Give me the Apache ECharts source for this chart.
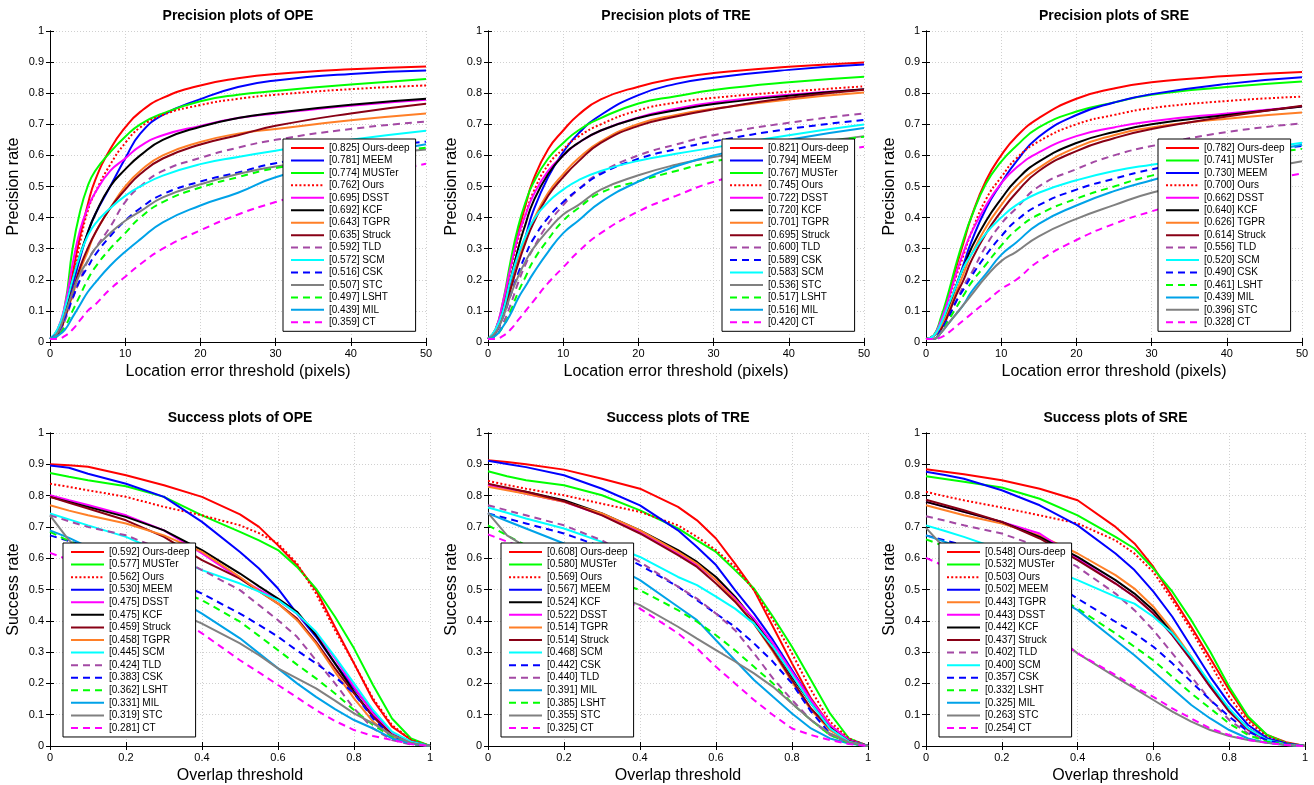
<!DOCTYPE html>
<html><head><meta charset="utf-8">
<script src="https://cdn.jsdelivr.net/npm/echarts@6/dist/echarts.min.js"></script>
<style>html,body{margin:0;padding:0;background:#fff}#c{width:1314px;height:785px}</style>
</head><body><div id="c"></div><script>
// ---------------- DATA ----------------
const precX = [0,1,2,3,4,5,6,8,10,12,15,20,25,30,40,50];
const succX = [0,0.05,0.1,0.2,0.3,0.4,0.5,0.55,0.6,0.65,0.7,0.75,0.8,0.85,0.9,0.95,1];
const precTicksX = [0,10,20,30,40,50];
const succTicksX = [0,0.2,0.4,0.6,0.8,1];

const titles = ['Precision plots of OPE','Precision plots of TRE','Precision plots of SRE',
                'Success plots of OPE','Success plots of TRE','Success plots of SRE'];
const precXName = 'Location error threshold (pixels)';
const succXName = 'Overlap threshold';
const precYName = 'Precision rate';
const succYName = 'Success rate';

// Precision OPE
const opePrecOrder = ['Ours-deep','MEEM','MUSTer','Ours','DSST','KCF','TGPR','Struck','TLD','SCM','CSK','STC','LSHT','MIL','CT'];
const opePrecScores = [0.825,0.781,0.774,0.762,0.695,0.692,0.643,0.635,0.592,0.572,0.516,0.507,0.497,0.439,0.359];
const opePrecVals = {
 'Ours-deep':[0.01,0.03,0.10,0.22,0.34,0.44,0.52,0.62,0.69,0.74,0.785,0.825,0.848,0.862,0.877,0.886],
 'MEEM':     [0.01,0.03,0.09,0.18,0.27,0.35,0.41,0.50,0.59,0.67,0.73,0.781,0.82,0.841,0.862,0.873],
 'MUSTer':   [0.01,0.04,0.12,0.30,0.42,0.50,0.55,0.61,0.66,0.70,0.735,0.774,0.795,0.807,0.828,0.846],
 'Ours':     [0.01,0.03,0.10,0.20,0.32,0.42,0.48,0.57,0.64,0.69,0.73,0.762,0.782,0.795,0.813,0.825],
 'DSST':     [0.01,0.04,0.12,0.25,0.36,0.43,0.48,0.55,0.59,0.63,0.665,0.695,0.72,0.735,0.76,0.779],
 'KCF':      [0.01,0.03,0.10,0.20,0.28,0.35,0.41,0.50,0.555,0.60,0.65,0.692,0.72,0.737,0.763,0.782],
 'TGPR':     [0.01,0.02,0.08,0.15,0.23,0.29,0.35,0.43,0.50,0.55,0.60,0.643,0.67,0.685,0.713,0.735],
 'Struck':   [0.01,0.02,0.08,0.16,0.24,0.30,0.35,0.43,0.49,0.54,0.59,0.635,0.665,0.695,0.735,0.766],
 'TLD':      [0.01,0.02,0.07,0.14,0.20,0.26,0.30,0.37,0.45,0.50,0.55,0.592,0.625,0.65,0.685,0.709],
 'SCM':      [0.01,0.04,0.11,0.20,0.28,0.34,0.38,0.43,0.47,0.50,0.535,0.572,0.595,0.615,0.65,0.679],
 'CSK':      [0.01,0.03,0.08,0.14,0.20,0.24,0.28,0.34,0.39,0.43,0.475,0.516,0.545,0.575,0.615,0.644],
 'STC':      [0.01,0.03,0.09,0.16,0.22,0.26,0.30,0.35,0.39,0.42,0.465,0.507,0.54,0.564,0.595,0.619],
 'LSHT':     [0.01,0.02,0.05,0.10,0.15,0.20,0.24,0.30,0.35,0.40,0.45,0.497,0.53,0.559,0.595,0.625],
 'MIL':      [0.01,0.02,0.04,0.08,0.12,0.16,0.19,0.245,0.29,0.33,0.385,0.439,0.48,0.53,0.59,0.636],
 'CT':       [0.01,0.01,0.02,0.04,0.07,0.10,0.12,0.17,0.21,0.25,0.30,0.359,0.41,0.45,0.52,0.573]
};

// Precision TRE
const trePrecOrder = ['Ours-deep','MEEM','MUSTer','Ours','DSST','KCF','TGPR','Struck','TLD','CSK','SCM','STC','LSHT','MIL','CT'];
const trePrecScores = [0.821,0.794,0.767,0.745,0.722,0.720,0.701,0.695,0.600,0.589,0.583,0.536,0.517,0.516,0.420];
const trePrecVals = {
 'Ours-deep':[0.01,0.04,0.12,0.24,0.35,0.44,0.52,0.62,0.68,0.73,0.78,0.821,0.848,0.865,0.885,0.899],
 'MEEM':     [0.01,0.03,0.10,0.18,0.27,0.34,0.42,0.53,0.61,0.67,0.73,0.794,0.83,0.85,0.875,0.892],
 'MUSTer':   [0.01,0.04,0.13,0.26,0.37,0.45,0.51,0.59,0.64,0.68,0.72,0.767,0.79,0.81,0.835,0.853],
 'Ours':     [0.01,0.04,0.12,0.23,0.33,0.41,0.48,0.57,0.62,0.66,0.70,0.745,0.77,0.785,0.805,0.822],
 'DSST':     [0.01,0.04,0.13,0.24,0.34,0.41,0.47,0.55,0.60,0.64,0.68,0.722,0.75,0.77,0.795,0.812],
 'KCF':      [0.01,0.03,0.10,0.20,0.30,0.38,0.45,0.54,0.60,0.64,0.68,0.72,0.745,0.765,0.792,0.813],
 'TGPR':     [0.01,0.03,0.09,0.17,0.26,0.33,0.39,0.48,0.54,0.59,0.645,0.701,0.73,0.75,0.78,0.802],
 'Struck':   [0.01,0.03,0.09,0.17,0.25,0.32,0.38,0.47,0.53,0.58,0.64,0.695,0.725,0.748,0.785,0.811],
 'TLD':      [0.01,0.02,0.06,0.12,0.19,0.25,0.30,0.38,0.44,0.49,0.545,0.60,0.635,0.665,0.705,0.735],
 'CSK':      [0.01,0.03,0.08,0.15,0.22,0.28,0.33,0.40,0.45,0.49,0.54,0.589,0.62,0.645,0.685,0.714],
 'SCM':      [0.01,0.04,0.10,0.20,0.28,0.34,0.39,0.45,0.49,0.52,0.55,0.583,0.605,0.625,0.665,0.699],
 'STC':      [0.01,0.03,0.08,0.15,0.21,0.26,0.30,0.36,0.41,0.44,0.49,0.536,0.57,0.595,0.63,0.662],
 'LSHT':     [0.01,0.02,0.05,0.10,0.16,0.21,0.26,0.33,0.39,0.43,0.48,0.517,0.55,0.58,0.625,0.66],
 'MIL':      [0.01,0.02,0.05,0.09,0.14,0.18,0.22,0.29,0.35,0.39,0.45,0.516,0.565,0.60,0.65,0.688],
 'CT':       [0.01,0.01,0.02,0.04,0.07,0.10,0.13,0.19,0.24,0.29,0.35,0.42,0.47,0.515,0.58,0.628]
};

// Precision SRE
const srePrecOrder = ['Ours-deep','MUSTer','MEEM','Ours','DSST','KCF','TGPR','Struck','TLD','SCM','CSK','LSHT','MIL','STC','CT'];
const srePrecScores = [0.782,0.741,0.730,0.700,0.662,0.640,0.626,0.614,0.556,0.520,0.490,0.461,0.439,0.396,0.328];
const srePrecVals = {
 'Ours-deep':[0.01,0.02,0.07,0.15,0.24,0.32,0.40,0.52,0.60,0.66,0.72,0.782,0.815,0.835,0.855,0.868],
 'MUSTer':   [0.01,0.02,0.08,0.16,0.25,0.33,0.40,0.51,0.58,0.63,0.69,0.741,0.77,0.795,0.82,0.838],
 'MEEM':     [0.01,0.02,0.05,0.11,0.18,0.25,0.32,0.43,0.51,0.58,0.66,0.73,0.77,0.797,0.83,0.851],
 'Ours':     [0.01,0.02,0.06,0.13,0.21,0.28,0.35,0.46,0.53,0.59,0.645,0.70,0.73,0.752,0.775,0.789],
 'DSST':     [0.01,0.02,0.07,0.14,0.22,0.29,0.35,0.44,0.51,0.56,0.61,0.662,0.69,0.71,0.735,0.757],
 'KCF':      [0.01,0.02,0.05,0.11,0.18,0.24,0.30,0.39,0.46,0.52,0.58,0.64,0.675,0.70,0.73,0.757],
 'TGPR':     [0.01,0.02,0.05,0.10,0.16,0.22,0.28,0.37,0.44,0.50,0.56,0.626,0.665,0.69,0.718,0.738],
 'Struck':   [0.01,0.01,0.04,0.09,0.15,0.20,0.26,0.35,0.42,0.48,0.55,0.614,0.655,0.685,0.725,0.76],
 'TLD':      [0.01,0.01,0.04,0.08,0.13,0.18,0.22,0.31,0.38,0.43,0.50,0.556,0.60,0.63,0.675,0.703],
 'SCM':      [0.01,0.02,0.06,0.12,0.18,0.24,0.28,0.35,0.40,0.44,0.48,0.52,0.55,0.57,0.605,0.641],
 'CSK':      [0.01,0.01,0.04,0.08,0.13,0.17,0.21,0.28,0.34,0.39,0.44,0.49,0.525,0.555,0.60,0.63],
 'LSHT':     [0.01,0.01,0.03,0.07,0.11,0.15,0.19,0.25,0.31,0.36,0.41,0.461,0.50,0.535,0.585,0.621],
 'MIL':      [0.01,0.01,0.03,0.06,0.09,0.12,0.16,0.22,0.28,0.32,0.38,0.439,0.485,0.52,0.585,0.634],
 'STC':      [0.01,0.01,0.03,0.06,0.09,0.12,0.15,0.21,0.26,0.29,0.34,0.396,0.44,0.48,0.535,0.581],
 'CT':       [0.01,0.01,0.015,0.03,0.05,0.07,0.09,0.13,0.17,0.20,0.26,0.328,0.38,0.42,0.49,0.542]
};

// Success OPE
const opeSuccOrder = ['Ours-deep','MUSTer','Ours','MEEM','DSST','KCF','Struck','TGPR','SCM','TLD','CSK','LSHT','MIL','STC','CT'];
const opeSuccScores = [0.592,0.577,0.562,0.530,0.475,0.475,0.459,0.458,0.445,0.424,0.383,0.362,0.331,0.319,0.281];
const opeSuccVals = {
 'Ours-deep':[0.90,0.897,0.892,0.865,0.833,0.796,0.74,0.70,0.641,0.578,0.498,0.38,0.264,0.147,0.062,0.02,0],
 'MUSTer':   [0.872,0.86,0.849,0.83,0.796,0.737,0.684,0.657,0.626,0.572,0.503,0.413,0.312,0.195,0.088,0.024,0],
 'Ours':     [0.838,0.828,0.817,0.796,0.764,0.737,0.705,0.68,0.647,0.583,0.487,0.37,0.264,0.152,0.067,0.02,0],
 'MEEM':     [0.896,0.889,0.87,0.838,0.796,0.716,0.62,0.567,0.503,0.423,0.349,0.264,0.184,0.11,0.04,0.014,0],
 'DSST':     [0.801,0.785,0.77,0.737,0.689,0.615,0.535,0.50,0.466,0.423,0.36,0.28,0.189,0.104,0.04,0.01,0],
 'KCF':      [0.796,0.78,0.764,0.732,0.689,0.626,0.551,0.51,0.471,0.429,0.354,0.264,0.173,0.094,0.035,0.01,0],
 'Struck':   [0.796,0.777,0.759,0.721,0.668,0.594,0.535,0.495,0.455,0.407,0.333,0.248,0.168,0.094,0.035,0.01,0],
 'TGPR':     [0.769,0.752,0.737,0.711,0.673,0.62,0.54,0.495,0.455,0.402,0.328,0.237,0.152,0.078,0.03,0.008,0],
 'SCM':      [0.743,0.724,0.705,0.668,0.615,0.562,0.519,0.493,0.466,0.423,0.365,0.285,0.20,0.115,0.046,0.014,0],
 'TLD':      [0.737,0.718,0.70,0.673,0.626,0.562,0.498,0.45,0.402,0.349,0.274,0.20,0.12,0.056,0.019,0.005,0],
 'CSK':      [0.673,0.655,0.636,0.594,0.54,0.487,0.423,0.387,0.349,0.305,0.264,0.221,0.168,0.088,0.03,0.008,0],
 'LSHT':     [0.684,0.655,0.626,0.572,0.514,0.466,0.397,0.352,0.306,0.26,0.216,0.168,0.115,0.067,0.03,0.008,0],
 'MIL':      [0.689,0.665,0.636,0.551,0.493,0.423,0.344,0.296,0.248,0.20,0.157,0.118,0.083,0.056,0.024,0.008,0],
 'STC':      [0.737,0.657,0.604,0.509,0.445,0.391,0.328,0.29,0.248,0.216,0.184,0.145,0.104,0.072,0.035,0.01,0],
 'CT':       [0.617,0.595,0.572,0.509,0.434,0.36,0.274,0.235,0.195,0.155,0.115,0.08,0.051,0.032,0.019,0.006,0]
};

// Success TRE
const treSuccOrder = ['Ours-deep','MUSTer','Ours','MEEM','KCF','DSST','TGPR','Struck','SCM','CSK','TLD','MIL','LSHT','STC','CT'];
const treSuccScores = [0.608,0.580,0.569,0.567,0.524,0.522,0.514,0.514,0.468,0.442,0.440,0.391,0.385,0.355,0.325];
const treSuccVals = {
 'Ours-deep':[0.913,0.907,0.90,0.883,0.854,0.822,0.764,0.721,0.663,0.583,0.498,0.381,0.264,0.152,0.067,0.019,0],
 'MUSTer':   [0.878,0.862,0.849,0.833,0.801,0.753,0.695,0.657,0.62,0.562,0.503,0.413,0.317,0.211,0.104,0.024,0],
 'Ours':     [0.847,0.834,0.822,0.801,0.774,0.748,0.705,0.668,0.626,0.572,0.498,0.402,0.296,0.179,0.078,0.024,0],
 'MEEM':     [0.911,0.901,0.891,0.865,0.822,0.769,0.689,0.636,0.578,0.498,0.423,0.338,0.243,0.147,0.062,0.019,0],
 'KCF':      [0.833,0.822,0.812,0.785,0.743,0.689,0.626,0.588,0.54,0.477,0.402,0.317,0.221,0.136,0.062,0.019,0],
 'DSST':     [0.833,0.82,0.806,0.78,0.738,0.684,0.615,0.578,0.53,0.471,0.407,0.328,0.237,0.147,0.067,0.019,0],
 'TGPR':     [0.828,0.817,0.806,0.78,0.743,0.689,0.62,0.583,0.53,0.466,0.391,0.301,0.205,0.115,0.051,0.014,0],
 'Struck':   [0.838,0.825,0.812,0.782,0.737,0.679,0.61,0.572,0.519,0.461,0.391,0.306,0.211,0.12,0.056,0.016,0],
 'SCM':      [0.762,0.745,0.727,0.695,0.652,0.604,0.54,0.514,0.477,0.439,0.391,0.317,0.227,0.136,0.056,0.014,0],
 'CSK':      [0.743,0.727,0.711,0.679,0.636,0.578,0.509,0.466,0.423,0.381,0.328,0.269,0.20,0.11,0.04,0.01,0],
 'TLD':      [0.769,0.753,0.737,0.705,0.657,0.588,0.509,0.471,0.423,0.37,0.296,0.216,0.147,0.083,0.035,0.01,0],
 'MIL':      [0.743,0.719,0.695,0.647,0.594,0.53,0.445,0.402,0.338,0.274,0.211,0.157,0.104,0.056,0.024,0.008,0],
 'LSHT':     [0.705,0.673,0.641,0.594,0.54,0.498,0.434,0.397,0.354,0.306,0.253,0.20,0.136,0.083,0.035,0.01,0],
 'STC':      [0.745,0.673,0.636,0.562,0.498,0.45,0.381,0.343,0.306,0.27,0.232,0.189,0.136,0.083,0.04,0.012,0],
 'CT':       [0.676,0.653,0.631,0.572,0.509,0.439,0.36,0.312,0.253,0.20,0.147,0.099,0.056,0.035,0.019,0.006,0]
};

// Success SRE
const sreSuccOrder = ['Ours-deep','MUSTer','Ours','MEEM','TGPR','DSST','KCF','Struck','TLD','SCM','CSK','LSHT','MIL','STC','CT'];
const sreSuccScores = [0.548,0.532,0.503,0.502,0.443,0.443,0.442,0.437,0.402,0.400,0.357,0.332,0.325,0.263,0.254];
const sreSuccVals = {
 'Ours-deep':[0.884,0.876,0.868,0.849,0.822,0.785,0.70,0.647,0.572,0.477,0.381,0.28,0.179,0.088,0.035,0.012,0],
 'MUSTer':   [0.862,0.853,0.844,0.826,0.79,0.737,0.668,0.631,0.567,0.493,0.402,0.301,0.189,0.094,0.035,0.01,0],
 'Ours':     [0.812,0.798,0.785,0.762,0.737,0.711,0.657,0.615,0.556,0.466,0.37,0.264,0.157,0.078,0.03,0.01,0],
 'MEEM':     [0.876,0.866,0.854,0.817,0.769,0.705,0.615,0.562,0.493,0.413,0.317,0.221,0.136,0.067,0.025,0.008,0],
 'TGPR':     [0.769,0.753,0.737,0.711,0.673,0.615,0.546,0.503,0.445,0.37,0.285,0.195,0.11,0.051,0.018,0.005,0],
 'DSST':     [0.78,0.764,0.748,0.716,0.679,0.599,0.519,0.477,0.423,0.354,0.274,0.189,0.11,0.051,0.018,0.005,0],
 'KCF':      [0.78,0.764,0.748,0.716,0.668,0.604,0.53,0.487,0.434,0.36,0.28,0.195,0.115,0.056,0.02,0.005,0],
 'Struck':   [0.787,0.77,0.753,0.716,0.663,0.594,0.519,0.477,0.423,0.354,0.274,0.189,0.11,0.053,0.02,0.005,0],
 'TLD':      [0.734,0.72,0.705,0.679,0.636,0.572,0.487,0.434,0.37,0.296,0.221,0.147,0.083,0.04,0.015,0.004,0],
 'SCM':      [0.705,0.687,0.668,0.626,0.578,0.53,0.477,0.455,0.413,0.36,0.285,0.20,0.12,0.056,0.02,0.005,0],
 'CSK':      [0.673,0.657,0.641,0.599,0.546,0.471,0.397,0.36,0.317,0.264,0.205,0.147,0.094,0.046,0.018,0.005,0],
 'LSHT':     [0.66,0.638,0.615,0.567,0.509,0.439,0.36,0.317,0.274,0.221,0.168,0.12,0.072,0.035,0.014,0.004,0],
 'MIL':      [0.673,0.652,0.631,0.572,0.503,0.434,0.338,0.29,0.237,0.184,0.131,0.088,0.051,0.024,0.01,0.003,0],
 'STC':      [0.697,0.631,0.583,0.493,0.391,0.296,0.221,0.184,0.147,0.11,0.078,0.051,0.032,0.019,0.01,0.003,0],
 'CT':       [0.601,0.574,0.546,0.466,0.381,0.296,0.227,0.189,0.157,0.12,0.088,0.056,0.035,0.019,0.01,0.003,0]
};

// ---------------- STYLE / LAYOUT ----------------
const styleMap = {
 'Ours-deep':{color:'#ff0000', dash:'solid'},
 'MEEM':     {color:'#0000ff', dash:'solid'},
 'MUSTer':   {color:'#00ff00', dash:'solid'},
 'Ours':     {color:'#ff0000', dash:[2,2.2]},
 'DSST':     {color:'#ff00ff', dash:'solid'},
 'KCF':      {color:'#000000', dash:'solid'},
 'TGPR':     {color:'#ff7f27', dash:'solid'},
 'Struck':   {color:'#880015', dash:'solid'},
 'TLD':      {color:'#a349a4', dash:[7,5]},
 'SCM':      {color:'#00ffff', dash:'solid'},
 'CSK':      {color:'#0000ff', dash:[7,5]},
 'STC':      {color:'#808080', dash:'solid'},
 'LSHT':     {color:'#00ff00', dash:[7,5]},
 'MIL':      {color:'#00a2e8', dash:'solid'},
 'CT':       {color:'#ff00ff', dash:[7,5]}
};

const FONT = '"Liberation Sans", Arial, Helvetica, sans-serif';
const panels = [
 {order:opePrecOrder, scores:opePrecScores, vals:opePrecVals, kind:'p', grid:{left:50, top:31, width:376, height:311}, leg:{left:283, top:139}},
 {order:trePrecOrder, scores:trePrecScores, vals:trePrecVals, kind:'p', grid:{left:488, top:31, width:376, height:311}, leg:{left:722, top:139}},
 {order:srePrecOrder, scores:srePrecScores, vals:srePrecVals, kind:'p', grid:{left:926, top:31, width:376, height:311}, leg:{left:1158, top:139}},
 {order:opeSuccOrder, scores:opeSuccScores, vals:opeSuccVals, kind:'s', grid:{left:50, top:433, width:380, height:313}, leg:{left:63, top:543}},
 {order:treSuccOrder, scores:treSuccScores, vals:treSuccVals, kind:'s', grid:{left:488, top:433, width:380, height:313}, leg:{left:501, top:543}},
 {order:sreSuccOrder, scores:sreSuccScores, vals:sreSuccVals, kind:'s', grid:{left:926, top:433, width:379, height:313}, leg:{left:939, top:543}}
];

const option = {animation:false, backgroundColor:'#fff', title:[], grid:[], xAxis:[], yAxis:[], legend:[], series:[]};
const labelMap = {};

panels.forEach((p, k) => {
  const isP = p.kind === 'p';
  const xs = isP ? precX : succX;
  const ticks = isP ? precTicksX : succTicksX;
  option.grid.push(Object.assign({containLabel:false}, p.grid));
  option.title.push({text:titles[k], left:p.grid.left + p.grid.width/2, top: p.grid.top - 22, textAlign:'center', padding:0,
    textStyle:{fontFamily:FONT, fontSize:14, fontWeight:'bold', color:'#000'}});
  const tickStyle = {show:true, inside:true, length:4, lineStyle:{color:'#000', width:1}};
  const axLine = {show:true, lineStyle:{color:'#000', width:1}};
  const labelStyle = {fontFamily:FONT, fontSize:11, color:'#000'};
  option.xAxis.push({type:'value', gridIndex:k, position:'bottom', min:ticks[0], max:ticks[ticks.length-1], interval:ticks[1]-ticks[0],
    name: isP ? precXName : succXName, nameLocation:'middle', nameGap:22,
    nameTextStyle:{fontFamily:FONT, fontSize:16, color:'#000'},
    axisLine:axLine, axisTick:tickStyle, axisLabel:Object.assign({margin:6}, labelStyle),
    splitLine:{show:true, lineStyle:{color:'#d0d0d0', type:[1,2], width:1}}});
  option.xAxis.push({type:'value', gridIndex:k, position:'top', min:ticks[0], max:ticks[ticks.length-1], interval:ticks[1]-ticks[0],
    axisLine:axLine, axisTick:tickStyle, axisLabel:{show:false}, splitLine:{show:false}});
  option.yAxis.push({type:'value', gridIndex:k, position:'left', min:0, max:1, interval:0.1,
    name: isP ? precYName : succYName, nameLocation:'middle', nameGap:28,
    nameTextStyle:{fontFamily:FONT, fontSize:16, color:'#000'},
    axisLine:axLine, axisTick:tickStyle, axisLabel:Object.assign({margin:6}, labelStyle),
    splitLine:{show:true, lineStyle:{color:'#d0d0d0', type:[1,2], width:1}}});
  option.yAxis.push({type:'value', gridIndex:k, position:'right', min:0, max:1, interval:0.1,
    axisLine:axLine, axisTick:tickStyle, axisLabel:{show:false}, splitLine:{show:false}});

  const names = [];
  p.order.forEach((tr, i) => {
    const nm = k + '|' + tr;
    labelMap[nm] = '[' + p.scores[i].toFixed(3) + '] ' + tr;
    names.push(nm);
    const st = styleMap[tr];
    const v = p.vals[tr];
    option.series.push({
      type:'line', name:nm, xAxisIndex:2*k, yAxisIndex:2*k,
      data: xs.map((x, j) => [x, v[j]]),
      symbol:'none', showSymbol:false,
      smooth: isP ? 0.5 : false,
      lineStyle:{color:st.color, width:2, type:st.dash},
      itemStyle:{color:st.color},
      emphasis:{disabled:true}, silent:true, z:2
    });
  });
  option.legend.push({
    orient:'vertical', left:p.leg.left, top:p.leg.top, data:names, selectedMode:false,
    itemWidth:33, itemHeight:10, itemGap: isP ? 2.45 : 2.57,
    padding:[4,6,4,7], backgroundColor:'#fff', borderColor:'#000', borderWidth:1, borderRadius:0,
    itemStyle:{opacity:0, borderWidth:0},
    textStyle:{fontFamily:FONT, fontSize:10, color:'#000'},
    formatter: n => labelMap[n], z:10
  });
});

const chart = echarts.init(document.getElementById('c'), null, {renderer:'canvas'});
chart.setOption(option);
</script></body></html>
